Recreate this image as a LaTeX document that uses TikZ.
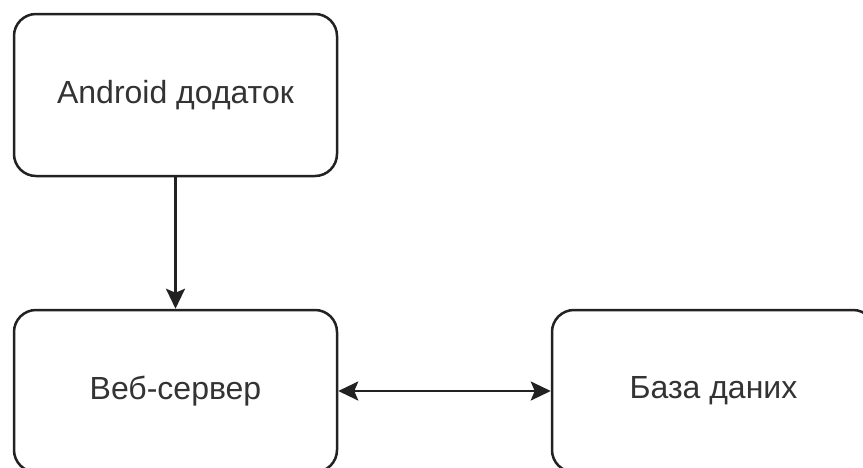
\documentclass[tikz,border=0pt]{standalone}
\usepackage{fontspec}
\setmainfont{Liberation Sans}
\usetikzlibrary{arrows.meta}
\definecolor{txt}{HTML}{333333}
\definecolor{ln}{HTML}{222222}
\begin{document}
\begin{tikzpicture}[x=1pt,y=1pt,
  box/.style={draw=ln, line width=2.5pt, rounded corners=22pt, minimum width=323pt, minimum height=162pt, inner sep=0pt,
    font=\fontsize{32}{36}\selectfont, text=txt, fill=white},
  conn/.style={draw=ln, line width=2.5pt, -{Stealth[length=20pt,width=19pt,inset=4pt]}},
  dconn/.style={draw=ln, line width=2.5pt, {Stealth[length=20pt,width=19pt,inset=4pt]}-{Stealth[length=20pt,width=19pt,inset=4pt]}}]
\clip (0,0) rectangle (863,-467);
\fill[white] (0,0) rectangle (863,-467);
\node[box] (app) at (175.5,-95) {Android додаток};
\node[box] (web) at (175.5,-391) {Веб-сервер};
\node[box] (db) at (713.5,-391) {База даних};
\draw[conn] (app) -- (web);
\draw[dconn] (web) -- (db);
\end{tikzpicture}
\end{document}
